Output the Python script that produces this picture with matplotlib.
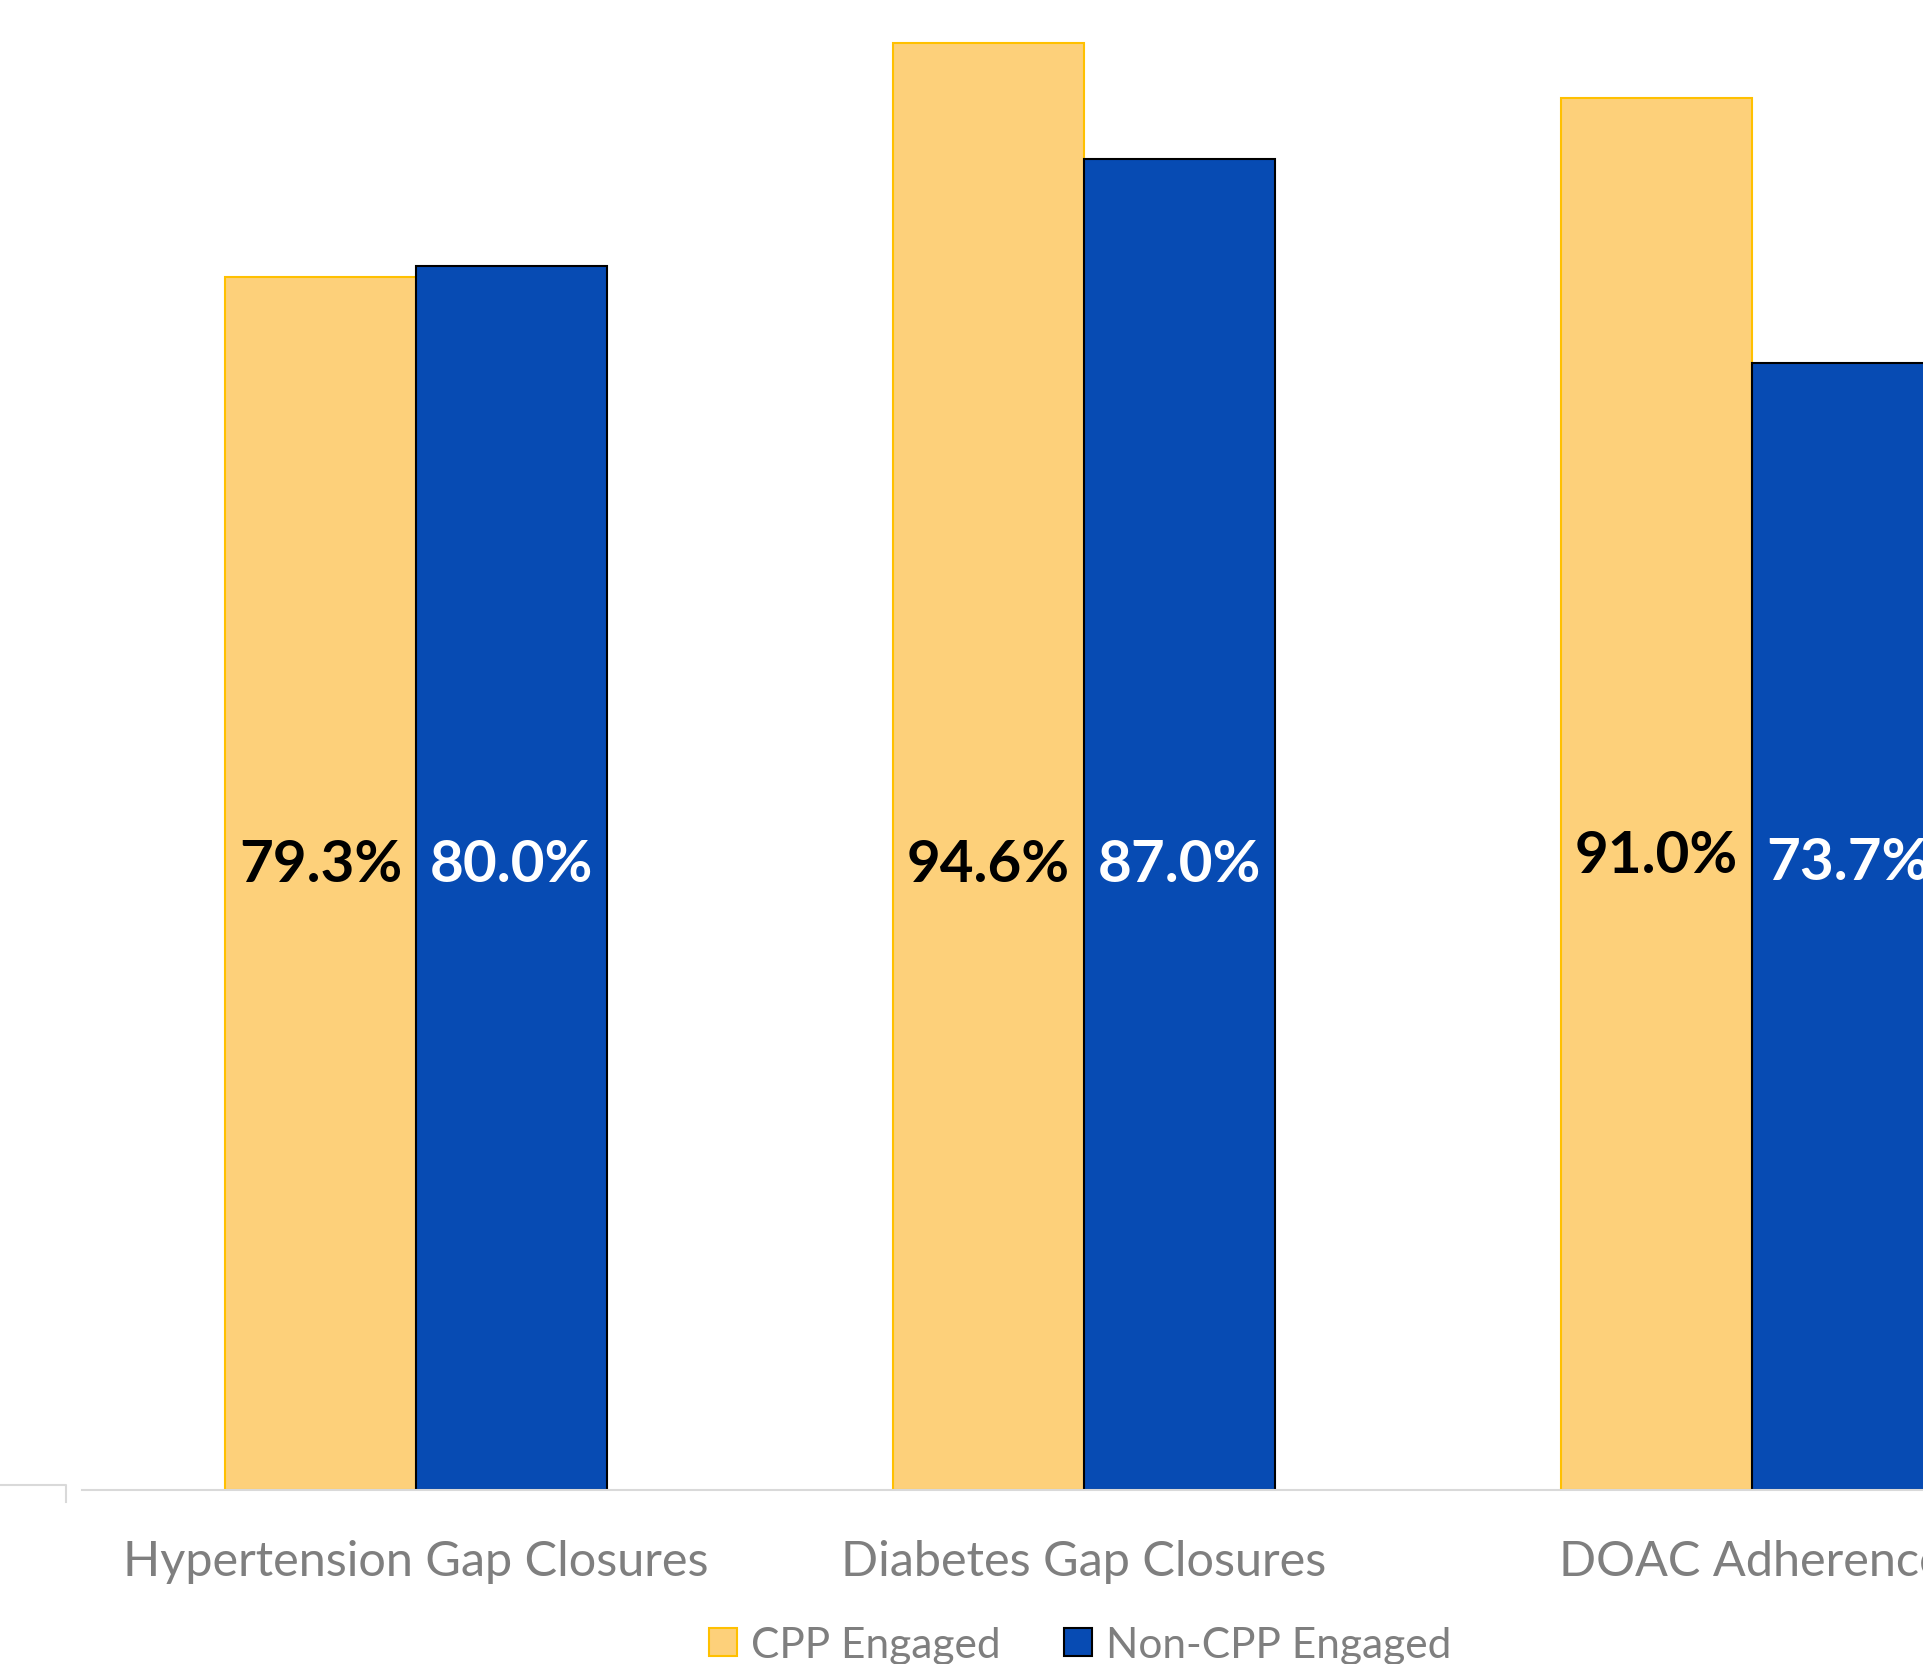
import numpy as np
import matplotlib.pyplot as plt
from matplotlib.lines import Line2D
from matplotlib.patches import Patch

plt.rcParams['font.family'] = ['Lato', 'DejaVu Sans']

# data
categories = ['Hypertension Gap Closures', 'Diabetes Gap Closures', 'DOAC Adherence']
cpp = [79.3, 94.6, 91.0]
non_cpp = [80.0, 87.0, 73.7]
label_y = [40.9, 40.9, 41.5]  # where the value labels sit
label_y2 = [40.9, 40.9, 41.0]

yellow = '#FDD07A'
yellow_edge = '#FFC000'
blue = '#074BB3'
gray = '#7F7F7F'

fig = plt.figure(figsize=(19.24, 16.65), dpi=100)
# axes runs past the right/top edge of the figure (chart is cropped)
ax = fig.add_axes([82 / 1924, 174 / 1665, 2004 / 1924, 1529.6 / 1665])

x = np.arange(len(categories))
w = 0.286
ax.bar(x - w / 2, cpp, w, color=yellow, edgecolor=yellow_edge, linewidth=1.5)
ax.bar(x + w / 2, non_cpp, w, color=blue, edgecolor='black', linewidth=1.5)

for i in range(len(categories)):
    ax.text(x[i] - w / 2, label_y[i], f'{cpp[i]:.1f}%', ha='center', va='center',
            fontsize=42, fontweight='bold', color='black')
    ax.text(x[i] + w / 2, label_y2[i], f'{non_cpp[i]:.1f}%', ha='center', va='center',
            fontsize=42, fontweight='bold', color='white')

ax.set_xlim(-0.5, 2.5)
ax.set_ylim(0, 100)
for s in ['top', 'right', 'left']:
    ax.spines[s].set_visible(False)
ax.spines['bottom'].set_color('#D9D9D9')
ax.spines['bottom'].set_linewidth(1.5)
ax.set_yticks([])
ax.set_xticks(x)
ax.set_xticklabels(categories, fontsize=35, color=gray)
ax.tick_params(axis='x', length=0, pad=35)

# little leftover axis fragment at the far left
fig.add_artist(Line2D([0, 66 / 1924, 66 / 1924], [1 - 1486 / 1665, 1 - 1486 / 1665, 1 - 1503 / 1665],
                      transform=fig.transFigure, color='#D9D9D9', linewidth=1.5))

# legend sits right at the bottom edge, descenders cut like the reference
handles = [Patch(facecolor=yellow, edgecolor=yellow_edge, linewidth=1.5),
           Patch(facecolor=blue, edgecolor='black', linewidth=1.5)]
fig.legend(handles, ['CPP Engaged', 'Non-CPP Engaged'], loc='center', ncol=2,
           bbox_to_anchor=(1080 / 1924, 1 - 1646 / 1665), frameon=False, fontsize=30.5,
           labelcolor=gray, handlelength=0.66, handleheight=0.64, handletextpad=0.33,
           columnspacing=1.5, borderpad=0)

fig.savefig('out.png', dpi=100)
